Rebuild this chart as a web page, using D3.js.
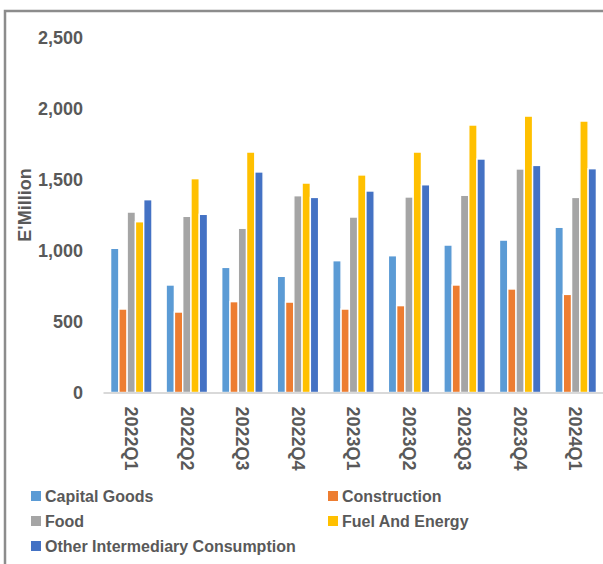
<!DOCTYPE html>
<html>
<head>
<meta charset="utf-8">
<script src="https://cdn.jsdelivr.net/npm/d3@7/dist/d3.min.js"></script>
<style>
  html, body { margin: 0; padding: 0; background: #fff; }
  svg { display: block; font-family: "Liberation Sans", Arial, sans-serif; }
</style>
</head>
<body>
<svg id="chart" width="603" height="564"></svg>
<script>
// Quarterly imports by category (E'Million)
const quarters = ["2022Q1", "2022Q2", "2022Q3", "2022Q4", "2023Q1", "2023Q2", "2023Q3", "2023Q4", "2024Q1"];
const seriesNames = ["Capital Goods", "Construction", "Food", "Fuel And Energy", "Other Intermediary Consumption"];
const capitalGoods = [1014, 756, 880, 817, 927, 962, 1037, 1072, 1162];
const construction = [587, 566, 639, 636, 587, 611, 756, 728, 690];
const food = [1269, 1239, 1155, 1384, 1234, 1375, 1387, 1572, 1372];
const fuelAndEnergy = [1201, 1504, 1691, 1473, 1530, 1691, 1881, 1944, 1909];
const otherIntermediary = [1356, 1253, 1551, 1372, 1417, 1461, 1642, 1597, 1574];
const yTicks = [0, 500, 1000, 1500, 2000, 2500];
const colors = ["#5B9BD5", "#ED7D31", "#A5A5A5", "#FFC000", "#4472C4"];

const seriesValues = [capitalGoods, construction, food, fuelAndEnergy, otherIntermediary];
const rows = quarters.map((q, i) => ({
  quarter: q,
  values: seriesNames.map((s, k) => ({ series: s, value: seriesValues[k][i] }))
}));

const svg = d3.select("#chart");
const textColor = "#595959";

// Outer frame (left and top edges)
svg.append("path")
  .attr("d", "M5,564 L5,11 L603,11")
  .attr("fill", "none")
  .attr("stroke", "#8c8c8c")
  .attr("stroke-width", 2.5);

const plot = { left: 103.5, right: 603.5, top: 37, bottom: 392.5 };

const y = d3.scaleLinear().domain([0, 2500]).range([plot.bottom, plot.top]);
const x0 = d3.scaleBand().domain(quarters).range([plot.left, plot.right]).paddingInner(0.255).paddingOuter(0.1275);
const x1 = d3.scaleBand().domain(seriesNames).range([0, x0.bandwidth()]);

// Y axis labels
const yAxis = d3.axisLeft(y).tickValues(yTicks).tickFormat(d3.format(",")).tickSize(0).tickPadding(0);
const yg = svg.append("g").attr("transform", "translate(83,0)").call(yAxis);
yg.select(".domain").remove();
yg.selectAll("text")
  .attr("fill", textColor)
  .style("font-size", "18px")
  .style("font-weight", "bold")
  .attr("dy", "0.35em");

// Y axis title
svg.append("text")
  .attr("transform", "translate(31,205) rotate(-90)")
  .attr("text-anchor", "middle")
  .attr("fill", textColor)
  .style("font-size", "18px")
  .style("font-weight", "bold")
  .text("E'Million");

// Bars
const groups = svg.append("g").selectAll("g")
  .data(rows)
  .join("g")
  .attr("transform", d => `translate(${x0(d.quarter)},0)`);

groups.selectAll("rect")
  .data(d => d.values)
  .join("rect")
  .attr("x", d => x1(d.series))
  .attr("y", d => y(d.value))
  .attr("width", x1.bandwidth())
  .attr("height", d => y(0) - y(d.value))
  .attr("fill", (d, i) => colors[i])
  .attr("stroke", "#ffffff")
  .attr("stroke-width", 1.4);

// Category axis line
svg.append("line")
  .attr("x1", plot.left).attr("x2", plot.right)
  .attr("y1", plot.bottom + 0.5).attr("y2", plot.bottom + 0.5)
  .attr("stroke", "#d9d9d9")
  .attr("stroke-width", 2);

// Category labels, rotated
const xAxis = d3.axisBottom(x0).tickSize(0).tickPadding(0);
const xg = svg.append("g").attr("transform", `translate(0,${plot.bottom})`).call(xAxis);
xg.select(".domain").remove();
xg.selectAll("text")
  .attr("fill", textColor)
  .style("font-size", "18px")
  .style("font-weight", "bold")
  .attr("text-anchor", "start")
  .attr("dy", "0.35em")
  .attr("y", 0)
  .attr("transform", "translate(0,14) rotate(90)");

// Legend
const legendItems = [
  { name: seriesNames[0], color: colors[0], x: 31, y: 496 },
  { name: seriesNames[1], color: colors[1], x: 328, y: 496 },
  { name: seriesNames[2], color: colors[2], x: 31, y: 521 },
  { name: seriesNames[3], color: colors[3], x: 328, y: 521 },
  { name: seriesNames[4], color: colors[4], x: 31, y: 546 }
];
const legend = svg.append("g").selectAll("g")
  .data(legendItems)
  .join("g")
  .attr("transform", d => `translate(${d.x},${d.y})`);
legend.append("rect")
  .attr("x", 0).attr("y", -5)
  .attr("width", 10).attr("height", 10)
  .attr("fill", d => d.color);
legend.append("text")
  .attr("x", 14)
  .attr("dy", "0.35em")
  .attr("fill", textColor)
  .style("font-size", "16px")
  .style("font-weight", "bold")
  .text(d => d.name);
</script>
</body>
</html>
